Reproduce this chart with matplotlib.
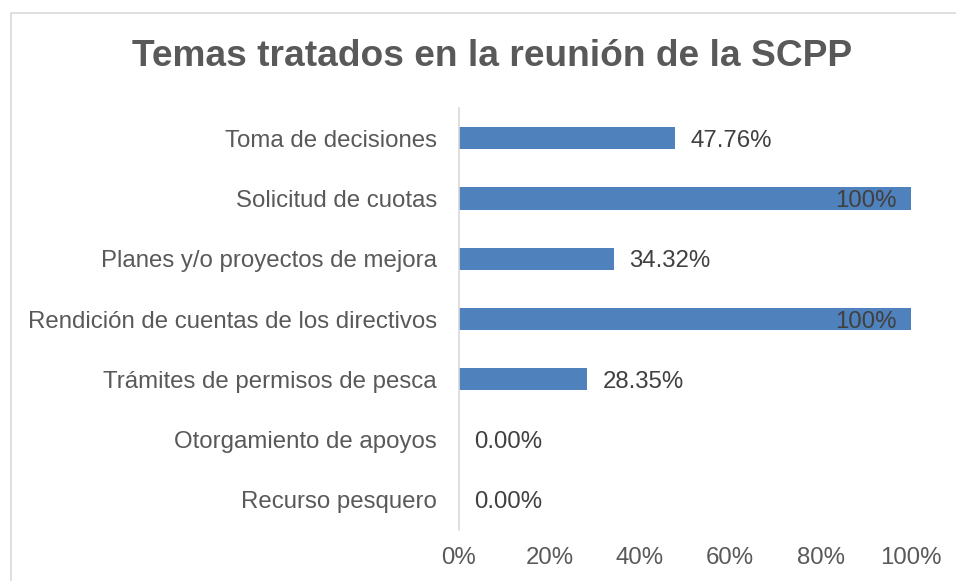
import matplotlib
matplotlib.use("Agg")
import matplotlib.pyplot as plt
from matplotlib.patches import Rectangle

categories = ["Toma de decisiones", "Solicitud de cuotas", "Planes y/o proyectos de mejora",
              "Rendición de cuentas de los directivos", "Trámites de permisos de pesca",
              "Otorgamiento de apoyos", "Recurso pesquero"]
values = [47.76, 100, 34.32, 100, 28.35, 0.0, 0.0]
labels = ["47.76%", "100%", "34.32%", "100%", "28.35%", "0.00%", "0.00%"]
xticks = [0, 20, 40, 60, 80, 100]
xticklabels = ["0%", "20%", "40%", "60%", "80%", "100%"]

plt.rcParams['font.family'] = ['Liberation Sans', 'DejaVu Sans']

W, H = 956, 581
FS = 17.3
fig = plt.figure(figsize=(W / 100, H / 100), dpi=100)
fig.patches.append(Rectangle((11 / W, -0.1), 1.2, 1 - 13 / H + 0.1, transform=fig.transFigure,
                             fill=False, edgecolor="#D9D9D9", linewidth=1.2))

ax = fig.add_axes([459 / W, 1 - 530 / H, (911 - 459) / W, (530 - 108) / H])
ypos = list(range(len(categories)))
ax.barh(ypos, values, height=0.37, color="#4F81BD")
ax.set_ylim(len(categories) - 0.5, -0.5)
ax.set_xlim(0, 100)
ax.set_yticks(ypos)
ax.set_yticklabels(categories, fontsize=FS, color="#595959")
ax.set_xticks(xticks)
ax.set_xticklabels(xticklabels, fontsize=FS, color="#595959")
ax.tick_params(axis='both', length=0)
ax.tick_params(axis='y', pad=16)
ax.tick_params(axis='x', pad=12)
for s in ["top", "right", "bottom"]:
    ax.spines[s].set_visible(False)
ax.spines["left"].set_color("#D9D9D9")
ax.spines["left"].set_linewidth(1.2)

for y, v, lab in zip(ypos, values, labels):
    if v >= 95:
        ax.annotate(lab, (v, y), xytext=(-10, 0), textcoords="offset points", ha="right",
                    va="center_baseline", fontsize=FS, color="#404040")
    else:
        ax.annotate(lab, (v, y), xytext=(11, 0), textcoords="offset points", ha="left",
                    va="center_baseline", fontsize=FS, color="#404040")

fig.text(492 / W, 1 - 66 / H, "Temas tratados en la reunión de la SCPP", ha="center", va="baseline",
         fontsize=26.7, fontweight="bold", color="#595959")

fig.savefig("out.png", dpi=100)
